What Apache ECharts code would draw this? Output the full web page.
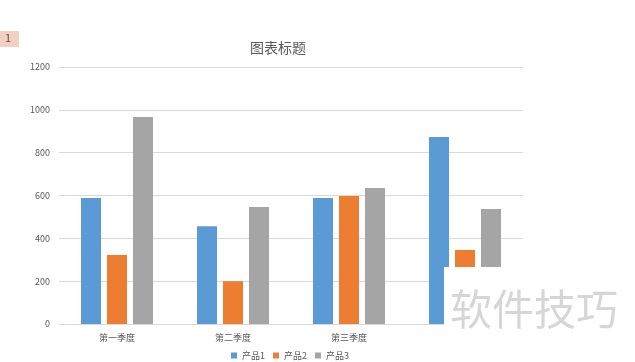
<!DOCTYPE html>
<html><head><meta charset="utf-8">
<script src="https://cdn.jsdelivr.net/npm/echarts@6/dist/echarts.min.js"></script>
<style>html,body{margin:0;padding:0;background:#fff;}#c{width:635px;height:362px;}</style>
</head><body><div id="c"></div>
<script>
const categories = ['第一季度','第二季度','第三季度','第四季度'];
const seriesNames = ['产品1','产品2','产品3'];
const product1 = [588, 457, 588, 873];
const product2 = [322, 200, 598, 345];
const product3 = [966, 546, 635, 537];
const colors = ['#5b9bd5','#ed7d31','#a5a5a5'];
const font = '"Noto Sans CJK SC", sans-serif';
const chart = echarts.init(document.getElementById('c'));
const data = [product1, product2, product3];
chart.setOption({
  animation:false,
  color: colors,
  title:{text:'图表标题', left:245, top:36,
    textStyle:{fontSize:14, fontWeight:'normal', color:'#595959', fontFamily:font}},
  legend:{top:346, left:226, itemWidth:6, itemHeight:6, itemGap:8, icon:'rect',
    textStyle:{fontSize:9, color:'#595959', fontFamily:font},
    data: seriesNames},
  grid:{left:59, right:112, top:67, bottom:38},
  xAxis:{type:'category', data:categories,
    axisLine:{lineStyle:{color:'#d9d9d9'}}, axisTick:{show:false},
    axisLabel:{fontSize:9, color:'#595959', fontFamily:font, margin:9}},
  yAxis:{type:'value', min:0, max:1200, interval:200,
    axisLine:{show:false}, axisTick:{show:false},
    splitLine:{lineStyle:{color:'#d9d9d9'}},
    axisLabel:{fontSize:9, color:'#595959', fontFamily:font, margin:9, formatter: v => String(v)}},
  series: seriesNames.map((n,i)=>({name:n, type:'bar', data:data[i], barWidth:20, barGap:'30%'})),
  graphic:[
    {type:'rect', shape:{x:0,y:31,width:19,height:16}, style:{fill:'#f2d0c2'}, z:100},
    {type:'text', left:5, top:32, style:{text:'1', fontSize:11, fill:'#7a4a3a', fontFamily:font}, z:101},
    {type:'rect', shape:{x:444,y:267,width:191,height:95}, style:{fill:'#ffffff'}, z:100},
    {type:'text', left:450, top:288, style:{text:'软件技巧', fontSize:42, fill:'#d6d6d6', fontFamily:font}, z:101}
  ]
});
</script></body></html>
